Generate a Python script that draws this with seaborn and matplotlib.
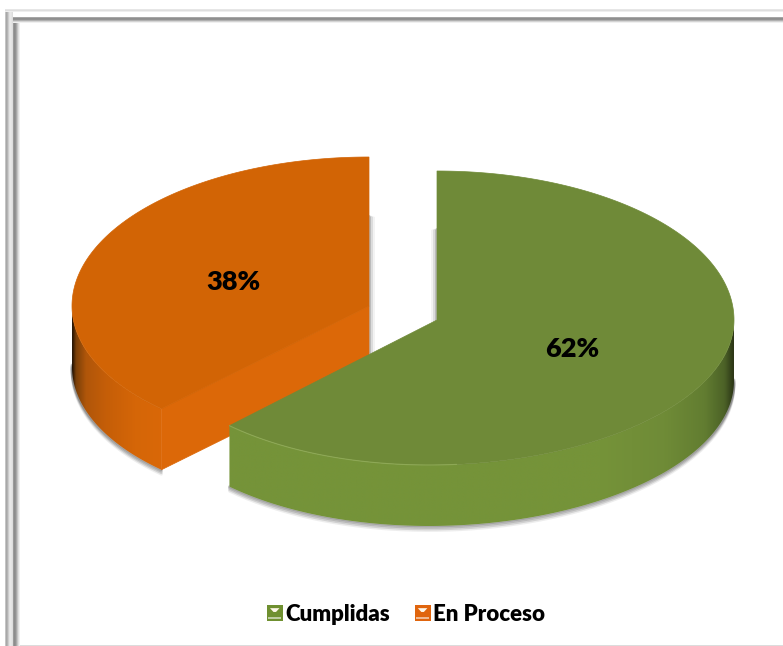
import numpy as np
import matplotlib
matplotlib.use("Agg")
import matplotlib.pyplot as plt
from matplotlib.legend_handler import HandlerBase
from matplotlib.patches import Patch, Polygon, Rectangle
import seaborn as sns

# Share of tasks by status
categories = ["Cumplidas", "En Proceso"]
shares = [62, 38]

TOP = {"Cumplidas": "#6F8A38", "En Proceso": "#D26405"}
WALL = {"Cumplidas": "#759339", "En Proceso": "#DC6808"}

sns.set_theme(style="white")
plt.rcParams["font.family"] = ["Lato", "DejaVu Sans"]

fig = plt.figure(figsize=(7.83, 6.46), dpi=100)
ax = fig.add_axes([0, 0, 1, 1])
ax.set_xlim(0, 783)
ax.set_ylim(646, 0)
ax.axis("off")


# Double bevelled frame around the chart area
def strip(x0, x1, y0, y1, colors, vertical=True):
    n = len(colors)
    for i, c in enumerate(colors):
        if vertical:
            ax.add_patch(Rectangle((x0 + (x1 - x0) * i / n, y0), (x1 - x0) / n, y1 - y0, fc=c, ec="none", zorder=1))
        else:
            ax.add_patch(Rectangle((x0, y0 + (y1 - y0) * i / n), x1 - x0, (y1 - y0) / n, fc=c, ec="none", zorder=1))


strip(5, 13, 10, 646, ["#c4c4c4", "#a8a8a8", "#b4b4b4", "#cccccc", "#e2e2e2", "#e8e8e8", "#e4e4e4", "#dddddd"])
strip(13, 20, 19, 646, ["#9a9a9a", "#8c8c8c", "#939393", "#a8a8a8", "#c4c4c4", "#dedede", "#f0f0f0"])
strip(5, 783, 9, 12, ["#e6e6e6", "#dedede", "#eeeeee"], vertical=False)
strip(13, 783, 17, 23, ["#a6a6a6", "#8e8e8e", "#929292", "#b0b0b0", "#d4d4d4", "#f0f0f0"], vertical=False)
strip(20, 783, 645, 646, ["#dcdcdc"], vertical=False)


def rim_point(theta, vx, vy, ry_front, radius=1.0, rx=297, ry_back=149, skew=8):
    """Project a clockwise-from-top pie angle onto the tilted disc."""
    u, v = np.sin(theta), -np.cos(theta)
    ry = np.where(v < 0, ry_back, ry_front)
    return vx + radius * (rx * u - skew * np.clip(v, 0, None) ** 2), vy + radius * ry * v


def draw_rim(th, x, y, ramp, ramp_x, depth, zorder):
    """Shadow plus a rim wall shaded smoothly along its horizontal position."""
    front = np.cos(th) < 0.02
    fx, fy = x[front], y[front]
    for off, alpha in [(6, 0.10), (4.5, 0.18), (3, 0.28), (1.5, 0.35)]:
        ax.plot(fx, fy + depth + off - 1.5, color="#555555", alpha=alpha, lw=2, zorder=zorder,
                solid_capstyle="round")

    cmap = sns.blend_palette(ramp, n_colors=256, as_cmap=True)
    xs = np.linspace(fx.min(), fx.max(), 600)
    shade = np.interp(xs, ramp_x, np.linspace(0, 1, len(ramp_x)))[None, :]
    img = ax.imshow(shade, cmap=cmap, vmin=0, vmax=1, aspect="auto", interpolation="bilinear", zorder=zorder + 1,
                    extent=(fx.min(), fx.max(), fy.max() + depth, fy.min()))
    outline = Polygon(np.r_[np.c_[fx, fy], np.c_[fx[::-1], fy[::-1] + depth]], transform=ax.transData,
                      fc="none", ec="none")
    ax.add_patch(outline)
    img.set_clip_path(outline)
    ax.set_xlim(0, 783)
    ax.set_ylim(646, 0)


# Slices run clockwise from twelve o'clock, the first one starting there
fracs = np.array(shares, dtype=float) / sum(shares)
sweep_green = 2 * np.pi * fracs[0]
sweep_orange = 2 * np.pi * fracs[1]

# En Proceso is pulled out to the upper left, Cumplidas to the lower right
ovx, ovy, gvx, gvy = 369, 306, 437, 320
depth = 61
n_arc = 300

# Back shadows cast behind the cut faces
for off, a in [(6, 0.08), (4, 0.16), (2, 0.28)]:
    ax.fill([ovx, ovx + off, ovx + off, ovx], [215, 217, 365, 365], color="#666666", alpha=a, lw=0, zorder=2)
    ax.fill([gvx - off, gvx, gvx, gvx - off], [230, 228, 322, 324], color="#666666", alpha=a, lw=0, zorder=2)

# En Proceso slice
o_start = 2 * np.pi - sweep_orange
o_ramp = ["#1c0e02", "#7a3f08", "#b0560a", "#c55e08", "#d56607", "#da6808"]
o_ramp_x = [72, 76, 86, 106, 135, 165]
th = np.linspace(o_start, 2 * np.pi, n_arc)
x, y = rim_point(th, ovx, ovy, 141)
draw_rim(th, x, y, o_ramp, o_ramp_x, depth, 3)
ax.add_patch(Polygon([(ovx, ovy), (x[0], y[0]), (x[0], y[0] + depth), (ovx, ovy + depth)],
                     fc=WALL["En Proceso"], ec=WALL["En Proceso"], lw=0.5, zorder=5))
ax.add_patch(Polygon(np.r_[[[ovx, ovy]], np.c_[x, y]], fc=TOP["En Proceso"], ec=TOP["En Proceso"], lw=0.5, zorder=6))

# Cumplidas slice
g_ramp = ["#759339", "#759339", "#6f8b37", "#627d31", "#4c6227", "#2c3616"]
g_ramp_x = [225, 600, 665, 705, 725, 734]
th = np.linspace(0, sweep_green, n_arc)
x, y = rim_point(th, gvx, gvy, 145)
draw_rim(th, x, y, g_ramp, g_ramp_x, depth, 7)
ax.add_patch(Polygon(np.r_[[[gvx, gvy]], np.c_[x, y]], fc=TOP["Cumplidas"], ec=TOP["Cumplidas"], lw=0.5, zorder=9))
lower = (np.cos(th) < -0.1) & (np.sin(th) < 0.1)
ax.plot(x[lower], y[lower], color="#93AE5A", lw=0.8, alpha=0.8, zorder=10)

# Percentage labels sit along each slice's bisector
mids = [sweep_green / 2, o_start + sweep_orange / 2]
verts = [(gvx, gvy), (ovx, ovy)]
for value, mid, (vx, vy) in zip(shares, mids, verts):
    lx, ly = rim_point(mid, vx, vy, 145, radius=0.49)
    ax.text(lx, ly + 3, f"{value}%", ha="center", va="center", fontsize=19.5, fontweight="heavy",
            color="black", zorder=12)


class BevelSquare(HandlerBase):
    """Legend key: a square with a pale notch on top and a light lower band."""

    def create_artists(self, legend, orig, xd, yd, w, h, fs, trans):
        s = h
        x0, y0 = (w - s) / 2 - xd, -yd
        sq = Rectangle((x0, y0), s, s, fc=orig.get_facecolor(), ec="none", transform=trans)
        notch = Polygon([(x0 + .2 * s, y0 + .82 * s), (x0 + .8 * s, y0 + .82 * s), (x0 + .58 * s, y0 + .58 * s),
                         (x0 + .42 * s, y0 + .58 * s)], fc="#FFF8EA", ec="none", transform=trans)
        band = Rectangle((x0 + .08 * s, y0 + .12 * s), .84 * s, .16 * s, fc="white", alpha=0.55, ec="none",
                         transform=trans)
        return [sq, notch, band]


handles = [Patch(facecolor=c) for c in ["#6F9030", "#E0650E"]]
ax.legend(handles, categories, handler_map={Patch: BevelSquare()},
          loc="center", bbox_to_anchor=(406, 614.5), bbox_transform=ax.transData,
          ncol=2, frameon=False, handlelength=0.72, handleheight=0.72, handletextpad=0.12, columnspacing=1.1,
          labelcolor="black", prop={"family": ["Lato", "DejaVu Sans"], "weight": "heavy", "size": 16})

fig.savefig("out.png", dpi=100, facecolor="white")
